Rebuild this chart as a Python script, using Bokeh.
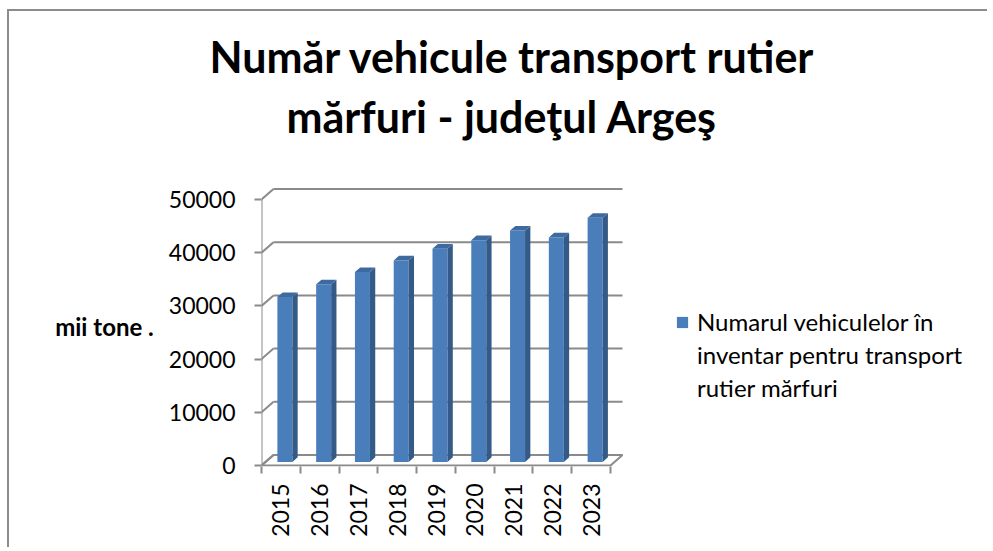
import math
from bokeh.plotting import figure
from bokeh.models import (FixedTicker, Legend, LegendItem, Title, Range1d, ColumnDataSource)
from bokeh.embed import file_html
from bokeh.resources import INLINE

# ---- data ----
years = ["2015", "2016", "2017", "2018", "2019", "2020", "2021", "2022", "2023"]
values = [31000, 33400, 35700, 37900, 40100, 41700, 43500, 42200, 45900]
y_ticks = [0, 10000, 20000, 30000, 40000, 50000]
title_line1 = "Număr vehicule transport rutier"
title_line2 = "mărfuri - judeţul Argeş"
y_label = "mii tone ."
legend_lines = ["Numarul vehiculelor în", "inventar pentru transport", "rutier mărfuri"]

# ---- pseudo-3D geometry (data units) ----
DX = 0.309      # full depth shift along x
DY = 1974.0     # full depth shift along y
F0, F1 = 0.333, 0.775   # bar front / back depth fractions
BW = 0.387      # bar front-face width
GRID = "#8a8a8a"
FRONT = "#4a7ebb"
SIDE = "#345a88"
TOP = "#3f6aa0"
FONT = "Lato"

n = len(years)
p = figure(width=980, height=538, output_backend="svg", toolbar_location=None,
           x_range=Range1d(0, 18.515), y_range=Range1d(-188, 52444),
           min_border_left=252, min_border_right=10, min_border_top=175,
           min_border_bottom=83)
p.outline_line_color = None
p.xgrid.visible = False
p.ygrid.visible = False
p.background_fill_color = "white"
p.border_fill_color = "white"

# back wall gridlines and left connectors
top_val = y_ticks[-1]
p.multi_line(xs=[[DX, n + DX] for t in y_ticks], ys=[[t + DY, t + DY] for t in y_ticks],
             line_color=GRID, line_width=2)
p.multi_line(xs=[[0, DX] for t in y_ticks], ys=[[t, t + DY] for t in y_ticks],
             line_color=GRID, line_width=2)
# floor outline
p.patch(x=[0, n, n + DX, DX], y=[0, 0, DY, DY], fill_color=None, line_color=GRID, line_width=2)
# front vertical axis line
p.line(x=[0, 0], y=[y_ticks[0], top_val], line_color=GRID, line_width=2)

# bars
xc = [i + 0.5 + F0 * DX for i in range(n)]
xl = [c - BW / 2 for c in xc]
xr = [c + BW / 2 for c in xc]
d = F1 - F0
src = ColumnDataSource(dict(x=xc, top=[v + F0 * DY for v in values],
                            bottom=[F0 * DY] * n))
front = p.vbar(x="x", top="top", bottom="bottom", width=BW, source=src,
               fill_color=FRONT, line_color=None)
side_xs = [[r, r + d * DX, r + d * DX, r] for r in xr]
side_ys = [[F0 * DY, F1 * DY, v + F1 * DY, v + F0 * DY] for v in values]
p.patches(xs=side_xs, ys=side_ys, fill_color=SIDE, line_color=None)
top_xs = [[l, r, r + d * DX, l + d * DX] for l, r in zip(xl, xr)]
top_ys = [[v + F0 * DY, v + F0 * DY, v + F1 * DY, v + F1 * DY] for v in values]
p.patches(xs=top_xs, ys=top_ys, fill_color=TOP, line_color=None)

# y axis
ya = p.yaxis[0]
ya.ticker = FixedTicker(ticks=y_ticks, minor_ticks=[])
ya.axis_line_color = None
ya.major_tick_out = 7
ya.major_tick_in = 0
ya.major_tick_line_color = GRID
ya.major_tick_line_width = 2
ya.major_label_standoff = 19
ya.major_label_text_font = FONT
ya.major_label_text_font_size = "23px"
ya.major_label_text_color = "black"
ya.axis_label = y_label
ya.axis_label_orientation = "horizontal"
ya.axis_label_text_font = FONT
ya.axis_label_text_font_style = "bold"
ya.axis_label_text_font_size = "24px"
ya.axis_label_text_color = "black"
ya.axis_label_standoff = 12

# x axis
xa = p.xaxis[0]
xa.ticker = FixedTicker(ticks=[i + 0.5 for i in range(n)], minor_ticks=list(range(n + 1)))
xa.major_label_overrides = {i + 0.5: y for i, y in enumerate(years)}
xa.axis_line_color = None
xa.major_tick_out = 0
xa.major_tick_in = 0
xa.minor_tick_out = 7
xa.minor_tick_in = 0
xa.minor_tick_line_color = GRID
xa.minor_tick_line_width = 2
xa.major_label_orientation = math.pi / 2
xa.major_label_standoff = 10
xa.major_label_text_font = FONT
xa.major_label_text_font_size = "23px"
xa.major_label_text_color = "black"

# legend: one swatch, label wrapped over three lines
dummies = [p.scatter(x=[], y=[], alpha=0) for _ in legend_lines[1:]]
items = [LegendItem(label=legend_lines[0], renderers=[front])]
items += [LegendItem(label=t, renderers=[r]) for t, r in zip(legend_lines[1:], dummies)]
legend = Legend(items=items, location=(414, 64), margin=0, padding=0, spacing=4,
                glyph_width=14, glyph_height=14, label_standoff=8, label_height=20,
                label_text_font=FONT, label_text_font_size="24px",
                label_text_color="black",
                border_line_color=None, background_fill_alpha=0)
p.add_layout(legend, "center")

# title (two lines)
for txt, so, off in [(title_line2, 90, 25), (title_line1, -76, -52)]:
    p.add_layout(Title(text=txt, align="left", offset=off, standoff=so,
                       text_font=FONT, text_font_style="bold",
                       text_font_size="43px", text_color="black"), "above")

p.styles = {"border-top": "2px solid #8c8c8c", "border-left": "2px solid #8c8c8c",
            "margin-left": "7px", "margin-top": "9px"}

open("out.html", "w").write(file_html(p, INLINE))
